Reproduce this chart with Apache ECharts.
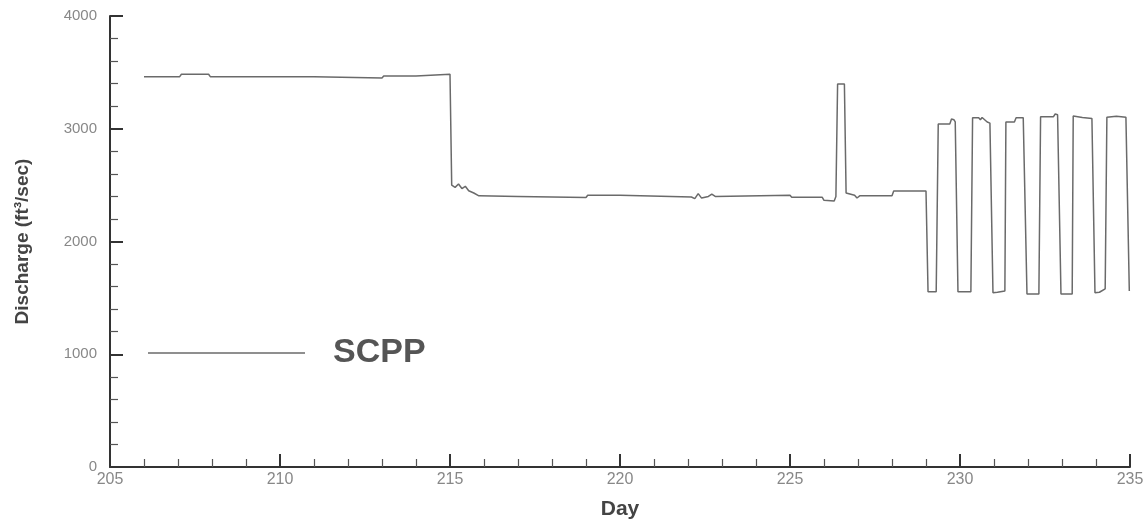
<!DOCTYPE html>
<html>
<head>
<meta charset="utf-8">
<script src="https://cdn.jsdelivr.net/npm/echarts@6/dist/echarts.min.js"></script>
<style>
html,body{margin:0;padding:0;background:#fff;}
#chart{width:1147px;height:525px;}
</style>
</head>
<body>
<div id="chart"></div>
<script>
// Day (x) and discharge (ft^3/sec)
const days = [
  206.0, 207.05, 207.1, 207.9, 207.95, 211.0, 211.05, 213.0, 213.05, 214.0, 214.05, 215.0,
  215.05, 215.15, 215.25, 215.35, 215.45, 215.55, 215.7, 215.85, 215.9,
  217.0, 217.05, 219.0, 219.05, 220.0, 220.05, 222.1, 222.2, 222.3, 222.4, 222.6, 222.7, 222.8,
  225.0, 225.05, 225.95, 226.0, 226.3, 226.35, 226.4, 226.6, 226.65, 226.9, 226.97, 227.05,
  228.0, 228.05, 229.0,
  229.06, 229.3, 229.36, 229.7, 229.75, 229.82, 229.86,
  229.94, 230.32, 230.37, 230.55, 230.6, 230.65, 230.8, 230.88,
  230.97, 231.1, 231.32, 231.35, 231.6, 231.65, 231.86,
  231.97, 232.32, 232.37, 232.75, 232.8, 232.87,
  232.97, 233.3, 233.33, 233.6, 233.88,
  233.97, 234.1, 234.27, 234.32, 234.6, 234.88,
  234.98, 235.0
];
const discharge = [
  3462, 3462, 3483, 3483, 3462, 3462, 3450, 3450, 3468, 3468, 3483, 3483,
  2501, 2480, 2510, 2470, 2490, 2450, 2430, 2405, 2397,
  2400, 2390, 2390, 2410, 2410, 2400, 2395, 2380, 2425, 2385, 2400, 2420, 2400,
  2410, 2392, 2392, 2365, 2360, 2400, 3397, 3397, 2430, 2410, 2386, 2405,
  2405, 2448, 2448,
  1555, 1555, 3042, 3042, 3086, 3080, 3060,
  1555, 1555, 3098, 3098, 3080, 3100, 3060, 3050,
  1545, 1550, 1561, 3060, 3060, 3098, 3098,
  1534, 1534, 3107, 3107, 3131, 3125,
  1534, 1534, 3113, 3100, 3090,
  1545, 1550, 1580, 3101, 3110, 3101,
  1560, 1560
];
const seriesName = 'SCPP';
const xTicks = [205, 210, 215, 220, 225, 230, 235];
const yTicks = [0, 1000, 2000, 3000, 4000];

const chart = echarts.init(document.getElementById('chart'), null, {renderer: 'canvas'});
const pts = days.map((d, i) => [d, discharge[i]]);
const font = 'Liberation Sans, Arial, sans-serif';

chart.setOption({
  animation: false,
  backgroundColor: '#ffffff',
  grid: {left: 110, right: 17, top: 16, bottom: 58, containLabel: false},
  legend: {
    left: 143, top: 331,
    icon: 'rect', itemWidth: 157, itemHeight: 1.5,
    itemStyle: {color: '#6a6a6a'},
    textStyle: {fontSize: 34, fontWeight: 'bold', color: '#555', fontFamily: font, padding: [0, 0, 0, 23]},
    data: [seriesName]
  },
  xAxis: {
    type: 'value', min: xTicks[0], max: xTicks[xTicks.length - 1], interval: 5,
    name: 'Day', nameLocation: 'middle', nameGap: 32,
    nameTextStyle: {fontSize: 21, fontWeight: 'bold', color: '#444', fontFamily: font},
    axisLine: {lineStyle: {color: '#333', width: 2}},
    axisTick: {inside: true, length: 13, lineStyle: {color: '#333', width: 2}},
    minorTick: {show: true, splitNumber: 5, length: 8, lineStyle: {color: '#555', width: 1.2}},
    splitLine: {show: false},
    axisLabel: {margin: 5, fontSize: 16, color: '#888', fontFamily: font, formatter: v => String(v)}
  },
  yAxis: {
    type: 'value', min: yTicks[0], max: yTicks[yTicks.length - 1], interval: 1000,
    name: 'Discharge (ft³/sec)', nameLocation: 'middle', nameGap: 78, nameRotate: 90,
    nameTextStyle: {fontSize: 19, fontWeight: 'bold', color: '#444', fontFamily: font},
    axisLine: {show: true, lineStyle: {color: '#333', width: 2}},
    axisTick: {show: true, inside: true, length: 13, lineStyle: {color: '#333', width: 2}},
    minorTick: {show: true, splitNumber: 5, length: 8, lineStyle: {color: '#555', width: 1.2}},
    splitLine: {show: false},
    axisLabel: {margin: 13, fontSize: 15, color: '#888', fontFamily: font, formatter: v => String(v)}
  },
  series: [{
    name: seriesName, type: 'line', data: pts, showSymbol: false, symbol: 'none',
    lineStyle: {color: '#6a6a6a', width: 1.5}, itemStyle: {color: '#6a6a6a'}
  }]
});
</script>
</body>
</html>
